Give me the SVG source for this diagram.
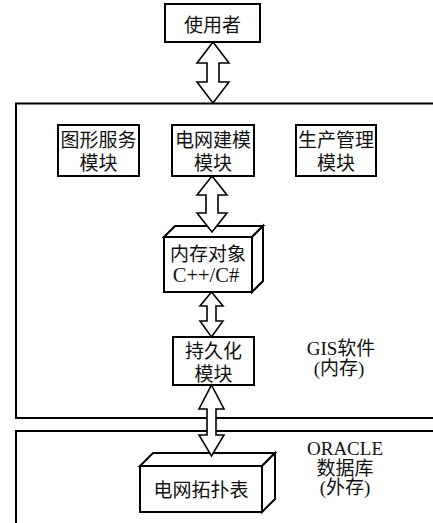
<svg xmlns="http://www.w3.org/2000/svg" width="433" height="523" viewBox="0 0 433 523">
  <style>
    .frame { fill: none; stroke: #000; stroke-width: 2; }
    .box { fill: #fff; stroke: #000; stroke-width: 2; }
    .face { fill: #fff; stroke: #000; stroke-width: 2; stroke-linejoin: miter; }
    .arrow { fill: #fff; stroke: #000; stroke-width: 1.6; stroke-linejoin: miter; }
    text { font-family: "Liberation Serif", "Noto Sans CJK SC", serif; font-size: 19px; fill: #111; text-anchor: middle; }
    .code { font-size: 20.5px; }
  </style>
  <rect width="433" height="523" fill="#fff"/>

  <!-- outer regions: GIS software (memory) and ORACLE database (storage) -->
  <g id="region-gis">
    <rect class="frame" x="16" y="103.5" width="440" height="314.5"/>
    <text x="341" y="355">GIS软件</text>
    <text x="339" y="375">(内存)</text>
  </g>
  <g id="region-oracle">
    <rect class="frame" x="16" y="431" width="440" height="120"/>
    <text x="345" y="455">ORACLE</text>
    <text x="345" y="475">数据库</text>
    <text x="345" y="494">(外存)</text>
  </g>

  <g id="user">
    <rect class="box" x="165" y="4" width="95" height="38"/>
    <text x="212.5" y="32">使用者</text>
  </g>

  <g id="graphics-module">
    <rect class="box" x="58" y="125" width="81" height="51"/>
    <text x="98.5" y="147">图形服务</text>
    <text x="98.5" y="170">模块</text>
  </g>
  <g id="network-model-module">
    <rect class="box" x="172" y="125" width="82" height="51"/>
    <text x="213" y="147">电网建模</text>
    <text x="213" y="170">模块</text>
  </g>
  <g id="production-module">
    <rect class="box" x="296" y="125" width="80" height="51"/>
    <text x="336" y="147">生产管理</text>
    <text x="336" y="170">模块</text>
  </g>

  <!-- 3D block: in-memory objects -->
  <g id="memory-objects">
    <polygon class="face" points="164,237 175,226 263,226 252,237"/>
    <polygon class="face" points="252,237 263,226 263,281 252,292"/>
    <rect class="box" x="164" y="237" width="88" height="55"/>
    <text x="208" y="261">内存对象</text>
    <text class="code" x="206" y="282">C++/C#</text>
  </g>

  <g id="persistence-module">
    <rect class="box" x="173" y="337" width="81" height="48"/>
    <text x="213.5" y="358">持久化</text>
    <text x="213.5" y="381">模块</text>
  </g>

  <!-- 3D block: network topology table -->
  <g id="topology-table">
    <polygon class="face" points="140,466 153,453 275,453 262,466"/>
    <polygon class="face" points="262,466 275,453 275,499 262,512"/>
    <rect class="box" x="140" y="466" width="122" height="46"/>
    <text x="201" y="497">电网拓扑表</text>
  </g>

  <!-- double-headed block arrows -->
  <g id="connectors">
    <polygon class="arrow" points="213,42 229,63 219,63 219,82 229,82 213,103 197,82 207,82 207,63 197,63"/>
    <polygon class="arrow" points="212,176 227,195 218,195 218,213 227,213 212,232 197,213 206,213 206,195 197,195"/>
    <polygon class="arrow" points="211.5,292 223,306 216,306 216,321 223,321 211.5,337 200,321 207,321 207,306 200,306"/>
    <polygon class="arrow" points="211.5,385 224,409 216,409 216,435 224,435 211.5,456 199,435 207,435 207,409 199,409"/>
  </g>
</svg>
